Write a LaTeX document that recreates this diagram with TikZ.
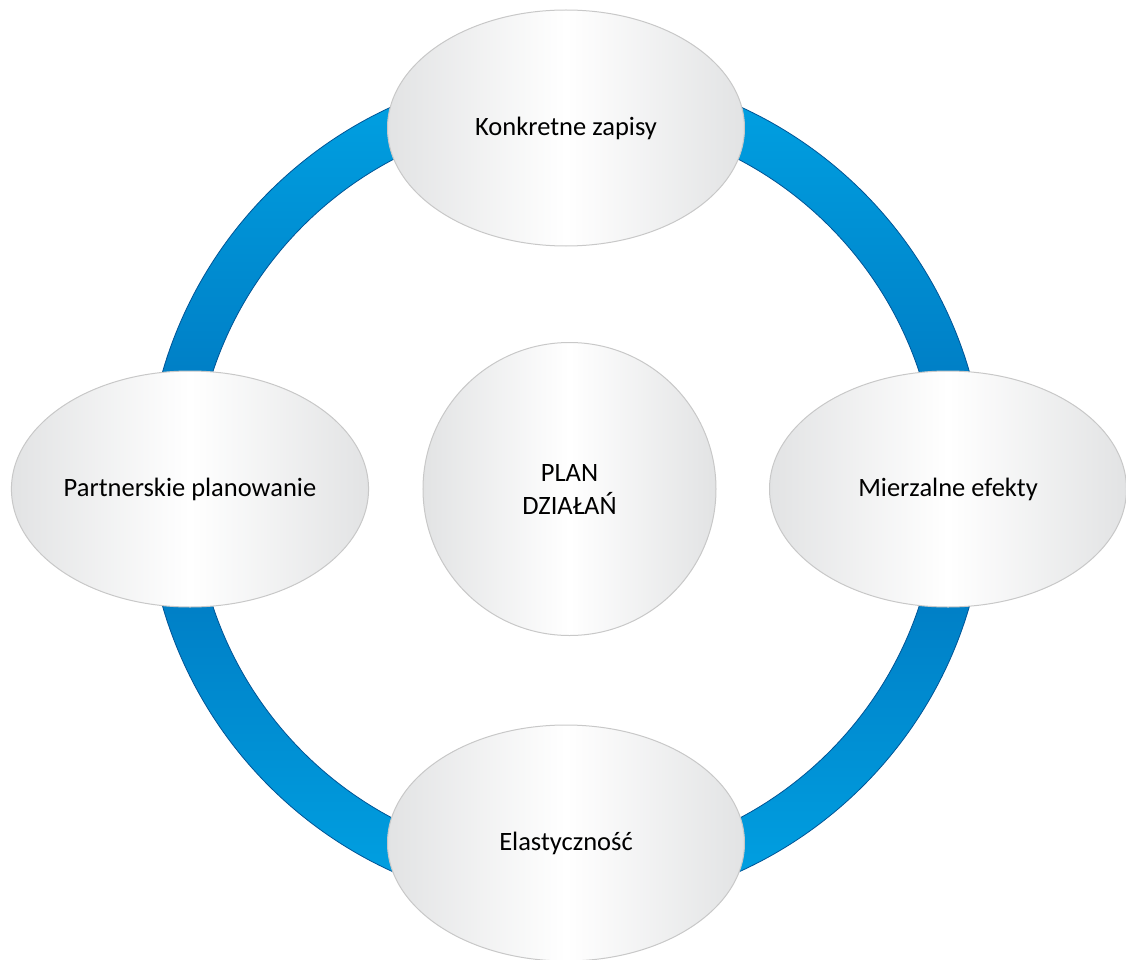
\documentclass[tikz,border=0pt]{standalone}
\usepackage{fontspec}
\setmainfont{Carlito}
\usepackage{tikz}
\usetikzlibrary{shapes.geometric,positioning}

\definecolor{ringlight}{RGB}{0,163,228}
\definecolor{ringdark}{RGB}{0,114,187}
\definecolor{ringedge}{RGB}{0,84,150}
\definecolor{bubblegray}{RGB}{226,227,228}
\definecolor{bubbleedge}{RGB}{200,200,200}

\tikzset{
    bubble/.style={ellipse, draw=bubbleedge, line width=1pt,
        left color=bubblegray, right color=bubblegray, middle color=white,
        minimum width=357pt, minimum height=236pt, inner sep=0pt,
        font=\fontsize{26.5}{33}\selectfont, align=center},
    hub/.style={bubble, circle, minimum size=293pt}
}

\begin{document}
\begin{tikzpicture}[x=1pt,y=1pt]
    \useasboundingbox (-566,-470) rectangle (560,489);

    % Ring
    \draw[ringedge, line width=0.8pt, top color=ringlight, bottom color=ringdark]
        (420,0) arc (0:180:420) -- (-372,0) arc (180:0:372) -- cycle;
    \draw[ringedge, line width=0.8pt, top color=ringdark, bottom color=ringlight]
        (420,0) arc (0:-180:420) -- (-372,0) arc (-180:0:372) -- cycle;

    % Bubbles
    \node[bubble] (zapisy) at (0,361) {Konkretne zapisy};
    \node[bubble] (efekty) at (382,0) {Mierzalne efekty};
    \node[bubble] (elastycznosc) at (0,-354) {Elastyczność};
    \node[bubble] (partnerskie) at (-376,0) {Partnerskie planowanie};

    % Centre
    \node[hub] (plan) at (3.5,0) {PLAN\\DZIAŁAŃ};
\end{tikzpicture}
\end{document}
